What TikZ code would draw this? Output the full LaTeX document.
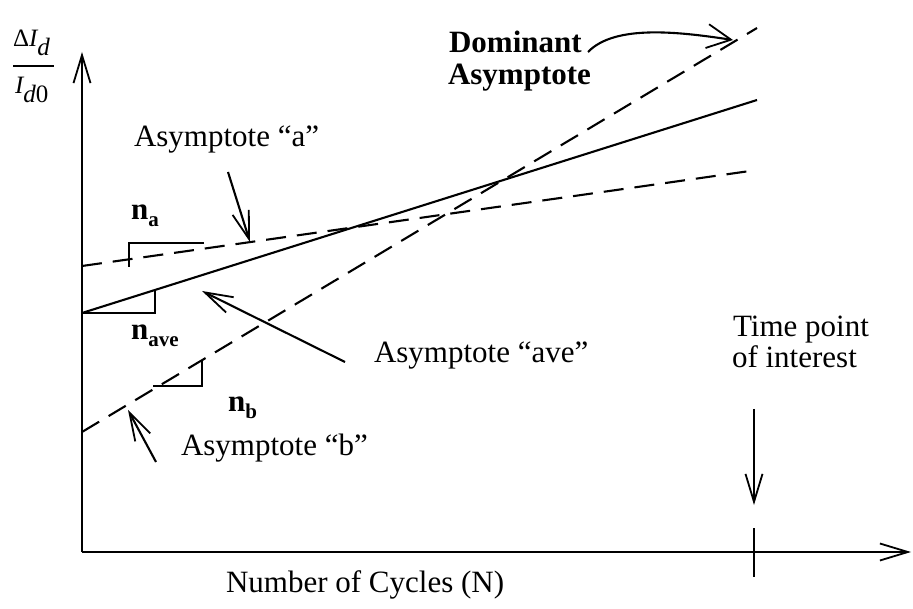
\documentclass[tikz,border=0pt]{standalone}
\usepackage{fontspec}
\setmainfont{Liberation Serif}
\usetikzlibrary{arrows.meta}
\begin{document}
\begin{tikzpicture}[x=1pt,y=-1pt,line width=2.1pt,
  txt/.style={anchor=base west,inner sep=0pt,font=\fontsize{31}{36}\selectfont},
  btxt/.style={anchor=base west,inner sep=0pt,font=\fontsize{31}{36}\selectfont\bfseries},
  ytxt/.style={anchor=base west,inner sep=0pt,font=\fontsize{25}{28}\selectfont\itshape},
  barb/.style={-{Straight Barb[length=28pt,width=17pt,line width=1.8pt]}},
  bigbarb/.style={-{Straight Barb[length=24pt,width=24pt,line width=1.8pt]}},
  dashline/.style={dash pattern=on 20pt off 11pt}]
\useasboundingbox (0,0) rectangle (913,609);
% axes
\coordinate (O) at (82,552);
\coordinate (ytip) at (82,52);
\coordinate (xtip) at (911,552);
\draw[barb] (O) -- (ytip);
\draw[barb] (O) -- (xtip);
\coordinate (tickT) at (754,528);
\coordinate (tickB) at (754,577);
\draw (tickT) -- (tickB);
\coordinate (tpA) at (754,409);
\coordinate (tpB) at (754,505);
\draw[barb] (tpA) -- (tpB);
% asymptotes
\coordinate (ave0) at (82,313);
\coordinate (ave1) at (757,100);
\coordinate (a0) at (82,266);
\coordinate (a1) at (757,170);
\coordinate (b0) at (82,432);
\coordinate (b1) at (757,28);
\draw (ave0) -- (ave1);
\draw[dashline] (a0) -- (a1);
\draw[dashline] (b0) -- (b1);
% slope steps
\draw (129,267) -- (129,243) -- (204,243);
\draw (ave0) -- (155,313) -- (155,290);
\draw (153,386) -- (202,386) -- (202,361);
% pointer arrows
\coordinate (pa0) at (228,172);
\coordinate (pa1) at (250,242);
\draw[barb] (pa0) -- (pa1);
\coordinate (pv0) at (345,362);
\coordinate (pv1) at (202,291);
\draw[barb] (pv0) -- (pv1);
\coordinate (pb0) at (156,462);
\coordinate (pb1) at (128,410);
\draw[barb] (pb0) -- (pb1);
\coordinate (pd0) at (588,52);
\coordinate (pd1) at (733,40);
\draw[bigbarb] (pd0) .. controls (615,24) and (680,32) .. (pd1);
% texts
\node[txt] (la) at (133,147) {Asymptote “a”};
\node[txt] (lave) at (373,363) {Asymptote “ave”};
\node[txt] (lb) at (180,455) {Asymptote “b”};
\node[txt] (tp1) at (732,337) {Time point};
\node[txt] (tp2) at (731,368) {of interest};
\node[txt] (xl) at (225,592) {Number of Cycles (N)};
\node[btxt] (dom1) at (448,53) {Dominant};
\node[btxt] (dom2) at (447,85) {Asymptote};
\node[btxt] (na) at (130,220) {n\raisebox{-7pt}{\fontsize{21}{24}\selectfont a}};
\node[btxt] (nave) at (130,340) {n\raisebox{-7pt}{\fontsize{21}{24}\selectfont ave}};
\node[btxt] (nb) at (227,412) {n\raisebox{-7pt}{\fontsize{21}{24}\selectfont b}};
% y label
\node[ytxt] (ynum) at (12,47) {{\upshape Δ}I\raisebox{-9pt}{d}};
\node[ytxt] (yden) at (14,94) {I\raisebox{-9pt}{d{\upshape 0}}};
\coordinate (bar0) at (13,66);
\coordinate (bar1) at (54,66);
\draw[line width=1.4pt] (bar0) -- (bar1);
\end{tikzpicture}
\end{document}
